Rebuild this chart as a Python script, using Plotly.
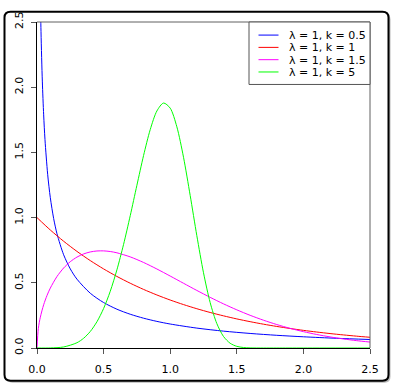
import plotly.graph_objects as go

# ---------------- data (Weibull densities) ----------------
x_k05 = [0.01, 0.02, 0.03, 0.04, 0.05, 0.06, 0.08, 0.1, 0.125, 0.15, 0.2, 0.25, 0.3, 0.4, 0.5,
         0.6, 0.7, 0.8, 0.9, 1.0, 1.2, 1.4, 1.6, 1.8, 2.0, 2.25, 2.5]
y_k05 = [4.524, 3.0693, 2.4277, 2.0468, 1.7880, 1.5978, 1.3323, 1.1525, 0.9931, 0.8764, 0.7149,
         0.6065, 0.5279, 0.4200, 0.3487, 0.2975, 0.2589, 0.2286, 0.2041, 0.1839, 0.1526, 0.1294,
         0.1116, 0.0974, 0.0860, 0.0744, 0.0651]

x_k1 = [0.0, 0.1, 0.2, 0.3, 0.4, 0.5, 0.6, 0.7, 0.8, 0.9, 1.0, 1.1, 1.2, 1.3, 1.4, 1.5, 1.6,
        1.7, 1.8, 1.9, 2.0, 2.1, 2.2, 2.3, 2.4, 2.5]
y_k1 = [1.0, 0.9048, 0.8187, 0.7408, 0.6703, 0.6065, 0.5488, 0.4966, 0.4493, 0.4066, 0.3679,
        0.3329, 0.3012, 0.2725, 0.2466, 0.2231, 0.2019, 0.1827, 0.1653, 0.1496, 0.1353, 0.1225,
        0.1108, 0.1003, 0.0907, 0.0821]

x_k15 = [0.0, 0.01, 0.025, 0.05, 0.075, 0.1, 0.15, 0.2, 0.25, 0.3, 0.35, 0.4, 0.45, 0.5, 0.55,
         0.6, 0.7, 0.8, 0.9, 1.0, 1.1, 1.2, 1.3, 1.4, 1.5, 1.6, 1.7, 1.8, 1.9, 2.0, 2.1, 2.2,
         2.3, 2.4, 2.5]
y_k15 = [0.0, 0.1499, 0.2362, 0.3317, 0.4024, 0.4596, 0.5482, 0.6134, 0.6619, 0.6971, 0.7214,
         0.7366, 0.7440, 0.7448, 0.7398, 0.7300, 0.6987, 0.6560, 0.6059, 0.5518, 0.4963, 0.4414,
         0.3885, 0.3386, 0.2926, 0.2507, 0.2132, 0.1799, 0.1507, 0.1254, 0.1036, 0.0851, 0.0695,
         0.0564, 0.0455]

x_k5 = [0.0, 0.1, 0.2, 0.3, 0.35, 0.4, 0.45, 0.5, 0.55, 0.6, 0.65, 0.7, 0.75, 0.8, 0.85, 0.9,
        0.95, 1.0, 1.05, 1.1, 1.15, 1.2, 1.25, 1.3, 1.35, 1.4, 1.45, 1.5, 1.55, 1.6, 1.7, 1.8,
        2.0, 2.5]
y_k5 = [0.0, 0.0005, 0.0080, 0.0404, 0.0746, 0.1267, 0.2013, 0.3029, 0.4351, 0.5995, 0.7948,
        1.0148, 1.2478, 1.4758, 1.6747, 1.8176, 1.8785, 1.8394, 1.6961, 1.4625, 1.1701, 0.8611,
        0.5771, 0.3485, 0.1875, 0.0887, 0.0364, 0.0127, 0.0038, 0.0009, 0.0, 0.0, 0.0, 0.0]

series_labels = ["λ = 1, k = 0.5", "λ = 1, k = 1", "λ = 1, k = 1.5", "λ = 1, k = 5"]
series_colors = ["#0000FF", "#FF0000", "#FF00FF", "#00FF00"]
x_ticks = [0.0, 0.5, 1.0, 1.5, 2.0, 2.5]
y_ticks = [0.0, 0.5, 1.0, 1.5, 2.0, 2.5]
tick_text = ["0.0", "0.5", "1.0", "1.5", "2.0", "2.5"]

# ---------------- layout geometry ----------------
W, H = 394, 388
L, R, T, B = 37, 24, 15, 39
PW = W - L - R
PH = H - T - B
FONT = "DejaVu Sans"


def px(x):
    return (x - L) / PW


def py(y):
    return (H - B - y) / PH


def rrect(x0, y0, x1, y1, r):
    X = lambda v: f"{px(v):.5f}"
    Y = lambda v: f"{py(v):.5f}"
    return (f"M{X(x0 + r)},{Y(y0)} L{X(x1 - r)},{Y(y0)} Q{X(x1)},{Y(y0)} {X(x1)},{Y(y0 + r)} "
            f"L{X(x1)},{Y(y1 - r)} Q{X(x1)},{Y(y1)} {X(x1 - r)},{Y(y1)} L{X(x0 + r)},{Y(y1)} "
            f"Q{X(x0)},{Y(y1)} {X(x0)},{Y(y1 - r)} L{X(x0)},{Y(y0 + r)} Q{X(x0)},{Y(y0)} {X(x0 + r)},{Y(y0)} Z")


fig = go.Figure()
xs = [x_k05, x_k1, x_k15, x_k5]
ys = [y_k05, y_k1, y_k15, y_k5]
for xv, yv, lab, col in zip(xs, ys, series_labels, series_colors):
    fig.add_trace(go.Scatter(x=xv, y=yv, mode="lines", name=lab,
                             line=dict(color=col, width=1, shape="spline", smoothing=0.8),
                             showlegend=False, hoverinfo="skip"))

shapes = []
# drop shadow and rounded frame
shapes.append(dict(type="path", xref="paper", yref="paper", layer="below",
                   path=rrect(6.5, 6.5, 390.5, 384.5, 6), fillcolor="rgba(0,0,0,0.28)",
                   line=dict(width=0)))
shapes.append(dict(type="path", xref="paper", yref="paper", layer="below",
                   path=rrect(4.5, 4.5, 388.5, 382.5, 6), fillcolor="white",
                   line=dict(color="black", width=2)))
# gray top / right box lines
shapes.append(dict(type="line", xref="paper", yref="paper", x0=0, x1=1, y0=1, y1=1,
                   line=dict(color="#606060", width=1)))
shapes.append(dict(type="line", xref="paper", yref="paper", x0=1, x1=1, y0=0, y1=1,
                   line=dict(color="#606060", width=1)))
# legend box
shapes.append(dict(type="rect", xref="paper", yref="paper",
                   x0=px(249), x1=px(370), y0=py(79), y1=py(15),
                   fillcolor="white", line=dict(color="#555555", width=1)))
annotations = []
for i, (lab, col) in enumerate(zip(series_labels, series_colors)):
    row = 28.4 + i * 12.6
    shapes.append(dict(type="line", xref="paper", yref="paper",
                       x0=px(258.5), x1=px(278.5), y0=py(row), y1=py(row),
                       line=dict(color=col, width=1)))
    annotations.append(dict(xref="paper", yref="paper", x=px(286.5), y=py(row + 0.6),
                            xanchor="left", yanchor="middle", text=lab, showarrow=False,
                            font=dict(family=FONT, size=11, color="black")))

fig.update_layout(
    width=W, height=H,
    margin=dict(l=L, r=R, t=T, b=B, pad=0),
    paper_bgcolor="white", plot_bgcolor="rgba(0,0,0,0)",
    shapes=shapes, annotations=annotations,
    showlegend=False,
    xaxis=dict(range=[0, 2.5], tickvals=x_ticks, ticktext=tick_text, showgrid=False,
               zeroline=False, showline=True, linecolor="black", linewidth=1,
               ticks="outside", ticklen=5, tickcolor="#555555", tickwidth=1,
               ticklabelstandoff=6, layer="below traces",
               tickfont=dict(family=FONT, size=11, color="black"), fixedrange=True),
    yaxis=dict(range=[0, 2.5], tickvals=y_ticks, ticktext=tick_text, showgrid=False,
               zeroline=False, showline=True, linecolor="black", linewidth=1,
               ticks="outside", ticklen=5, tickcolor="#555555", tickwidth=1,
               tickangle=-90, ticklabelstandoff=4, layer="below traces",
               tickfont=dict(family=FONT, size=11, color="black"), fixedrange=True),
)

fig.write_html("out.html", config={"displayModeBar": False})
